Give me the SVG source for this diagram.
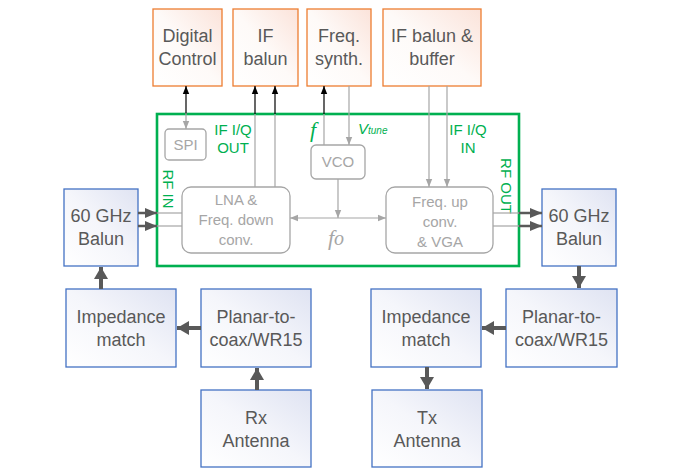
<svg xmlns="http://www.w3.org/2000/svg" width="674" height="468" viewBox="0 0 674 468">
<defs>
<linearGradient id="gOr" x1="0" y1="1" x2="1" y2="0"><stop offset="0" stop-color="#ffffff"/><stop offset="0.5" stop-color="#fefaf8"/><stop offset="1" stop-color="#fbe3da"/></linearGradient>
<linearGradient id="gBl" x1="0" y1="1" x2="1" y2="0"><stop offset="0" stop-color="#ffffff"/><stop offset="0.5" stop-color="#f5f6fb"/><stop offset="1" stop-color="#dfe3f2"/></linearGradient>
<marker id="aK" markerUnits="userSpaceOnUse" markerWidth="8" markerHeight="8" viewBox="0 0 8 8" refX="8" refY="4" orient="auto"><path d="M0,0.8 L8,4 L0,7.2 Z" fill="#000"/></marker>
<marker id="aG" markerUnits="userSpaceOnUse" markerWidth="8" markerHeight="8" viewBox="0 0 8 8" refX="8" refY="4" orient="auto-start-reverse"><path d="M0,0.8 L8,4 L0,7.2 Z" fill="#a6a6a6"/></marker>
<marker id="aD" markerUnits="userSpaceOnUse" markerWidth="12" markerHeight="12" viewBox="0 0 12 12" refX="12" refY="6" orient="auto"><path d="M0,1 L12,6 L0,11 Z" fill="#595959"/></marker>
<marker id="aT" markerUnits="userSpaceOnUse" markerWidth="14" markerHeight="14" viewBox="0 0 14 14" refX="12" refY="7" orient="auto"><path d="M0,0 L12,7 L0,14 Z" fill="#595959"/></marker>
</defs>
<style>
.or{fill:url(#gOr);stroke:#ed7d31;stroke-width:1.3}
.bl{fill:url(#gBl);stroke:#4472c4;stroke-width:1.3}
.in{fill:#fff;stroke:#a6a6a6;stroke-width:1.3}
.t{font-family:"Liberation Sans",Arial,sans-serif;font-size:18px;fill:#595959;text-anchor:middle}
.g{font-family:"Liberation Sans",Arial,sans-serif;font-size:15px;fill:#a6a6a6;text-anchor:middle}
.gr{font-family:"Liberation Sans",Arial,sans-serif;font-size:15px;fill:#00b050;text-anchor:middle}
.k{stroke:#000;stroke-width:1.2;fill:none}
.gl{stroke:#a6a6a6;stroke-width:1.2;fill:none}
.dk{stroke:#595959;stroke-width:2.5;fill:none}
.th{stroke:#595959;stroke-width:4;fill:none}
</style>
<g id="chip"><rect x="157" y="114" width="362" height="152" fill="#fff" stroke="#00b050" stroke-width="2.6"/></g>
<g id="digital"><rect class="or" x="153" y="9" width="69" height="77"/><text class="t" x="187.5" y="42">Digital</text><text class="t" x="187.5" y="65">Control</text></g>
<g id="ifbalun"><rect class="or" x="233" y="9" width="65" height="77"/><text class="t" x="265.5" y="42">IF</text><text class="t" x="265.5" y="65">balun</text></g>
<g id="synth"><rect class="or" x="307" y="9" width="64" height="77"/><text class="t" x="339" y="42">Freq.</text><text class="t" x="339" y="65">synth.</text></g>
<g id="ifbuffer"><rect class="or" x="383" y="9" width="98" height="77"/><text class="t" x="432" y="42">IF balun &amp;</text><text class="t" x="432" y="65">buffer</text></g>
<g id="spi"><rect class="in" x="165" y="129" width="41" height="31" rx="4"/><text class="g" x="185.5" y="150">SPI</text></g>
<g id="vco"><rect class="in" x="311" y="145" width="54" height="34" rx="5"/><text class="g" x="338" y="167">VCO</text></g>
<g id="lna"><rect class="in" x="182" y="187" width="108" height="66" rx="9"/><text class="g" x="236" y="205">LNA &amp;</text><text class="g" x="236" y="225">Freq. down</text><text class="g" x="236" y="245">conv.</text></g>
<g id="upconv"><rect class="in" x="386" y="187" width="107" height="66" rx="9"/><text class="g" x="440" y="207">Freq. up</text><text class="g" x="440" y="227">conv.</text><text class="g" x="440" y="247">&amp; VGA</text></g>
<g id="labels">
<text class="gr" x="233" y="135">IF I/Q</text><text class="gr" x="233" y="153">OUT</text>
<text class="gr" x="468" y="135">IF I/Q</text><text class="gr" x="468" y="153">IN</text>
<text class="gr" transform="translate(163,189) rotate(90)" style="text-anchor:middle">RF IN</text>
<text class="gr" transform="translate(501,186) rotate(90)" style="text-anchor:middle">RF OUT</text>
<text x="313" y="137" font-family="'Liberation Serif',serif" font-style="italic" font-size="22" fill="#00b050" text-anchor="middle">f</text>
<text x="358" y="134" font-family="'Liberation Sans',Arial,sans-serif" font-style="italic" font-size="15" fill="#00b050">V<tspan font-size="10">tune</tspan></text>
<text x="336" y="245" font-family="'Liberation Serif',serif" font-style="italic" font-size="22" fill="#a6a6a6" text-anchor="middle">f<tspan font-size="20">o</tspan></text>
</g>
<g id="balunL"><rect class="bl" x="64" y="189" width="74" height="77"/><text class="t" x="101" y="222">60 GHz</text><text class="t" x="101" y="245">Balun</text></g>
<g id="balunR"><rect class="bl" x="542" y="189" width="74" height="77"/><text class="t" x="579" y="222">60 GHz</text><text class="t" x="579" y="245">Balun</text></g>
<g id="impL"><rect class="bl" x="66" y="289" width="110" height="78"/><text class="t" x="121" y="323">Impedance</text><text class="t" x="121" y="346">match</text></g>
<g id="planL"><rect class="bl" x="201" y="289" width="110" height="78"/><text class="t" x="256" y="323">Planar-to-</text><text class="t" x="256" y="346">coax/WR15</text></g>
<g id="rx"><rect class="bl" x="201" y="390" width="110" height="77"/><text class="t" x="256" y="424">Rx</text><text class="t" x="256" y="447">Antenna</text></g>
<g id="planR"><rect class="bl" x="506" y="289" width="111" height="78"/><text class="t" x="561.5" y="323">Planar-to-</text><text class="t" x="561.5" y="346">coax/WR15</text></g>
<g id="impR"><rect class="bl" x="371" y="289" width="110" height="78"/><text class="t" x="426" y="323">Impedance</text><text class="t" x="426" y="346">match</text></g>
<g id="tx"><rect class="bl" x="372" y="390" width="110" height="77"/><text class="t" x="427" y="424">Tx</text><text class="t" x="427" y="447">Antenna</text></g>
<g id="connectors">
<line class="k" x1="186" y1="114" x2="186" y2="86" marker-end="url(#aK)"/>
<line class="gl" x1="186" y1="113" x2="186" y2="129" marker-end="url(#aG)"/>
<line class="gl" x1="255" y1="187" x2="255" y2="114"/>
<line class="k" x1="255" y1="114" x2="255" y2="86" marker-end="url(#aK)"/>
<line class="gl" x1="275" y1="187" x2="275" y2="114"/>
<line class="k" x1="275" y1="114" x2="275" y2="86" marker-end="url(#aK)"/>
<line class="gl" x1="324" y1="145" x2="324" y2="114"/>
<line class="k" x1="324" y1="114" x2="324" y2="86" marker-end="url(#aK)"/>
<line class="gl" x1="349" y1="86" x2="349" y2="145" marker-end="url(#aG)"/>
<line class="gl" x1="429" y1="86" x2="429" y2="187" marker-end="url(#aG)"/>
<line class="gl" x1="447" y1="86" x2="447" y2="187" marker-end="url(#aG)"/>
<line class="gl" x1="338" y1="179" x2="338" y2="218" marker-end="url(#aG)"/>
<line class="gl" x1="290" y1="218" x2="386" y2="218" marker-start="url(#aG)" marker-end="url(#aG)"/>
<line class="gl" x1="157" y1="213" x2="182" y2="213"/>
<line class="gl" x1="157" y1="226" x2="182" y2="226"/>
<line class="dk" x1="138" y1="213" x2="157" y2="213" marker-end="url(#aD)"/>
<line class="dk" x1="138" y1="226" x2="157" y2="226" marker-end="url(#aD)"/>
<line class="gl" x1="493" y1="213" x2="519" y2="213"/>
<line class="gl" x1="493" y1="226" x2="519" y2="226"/>
<line class="dk" x1="519" y1="213" x2="542" y2="213" marker-end="url(#aD)"/>
<line class="dk" x1="519" y1="226" x2="542" y2="226" marker-end="url(#aD)"/>
<line class="th" x1="101" y1="289" x2="101" y2="267" marker-end="url(#aT)"/>
<line class="th" x1="201" y1="328" x2="177" y2="328" marker-end="url(#aT)"/>
<line class="th" x1="257" y1="390" x2="257" y2="368" marker-end="url(#aT)"/>
<line class="th" x1="579" y1="266" x2="579" y2="288" marker-end="url(#aT)"/>
<line class="th" x1="506" y1="328" x2="482" y2="328" marker-end="url(#aT)"/>
<line class="th" x1="427" y1="367" x2="427" y2="389" marker-end="url(#aT)"/>
</g>
</svg>
